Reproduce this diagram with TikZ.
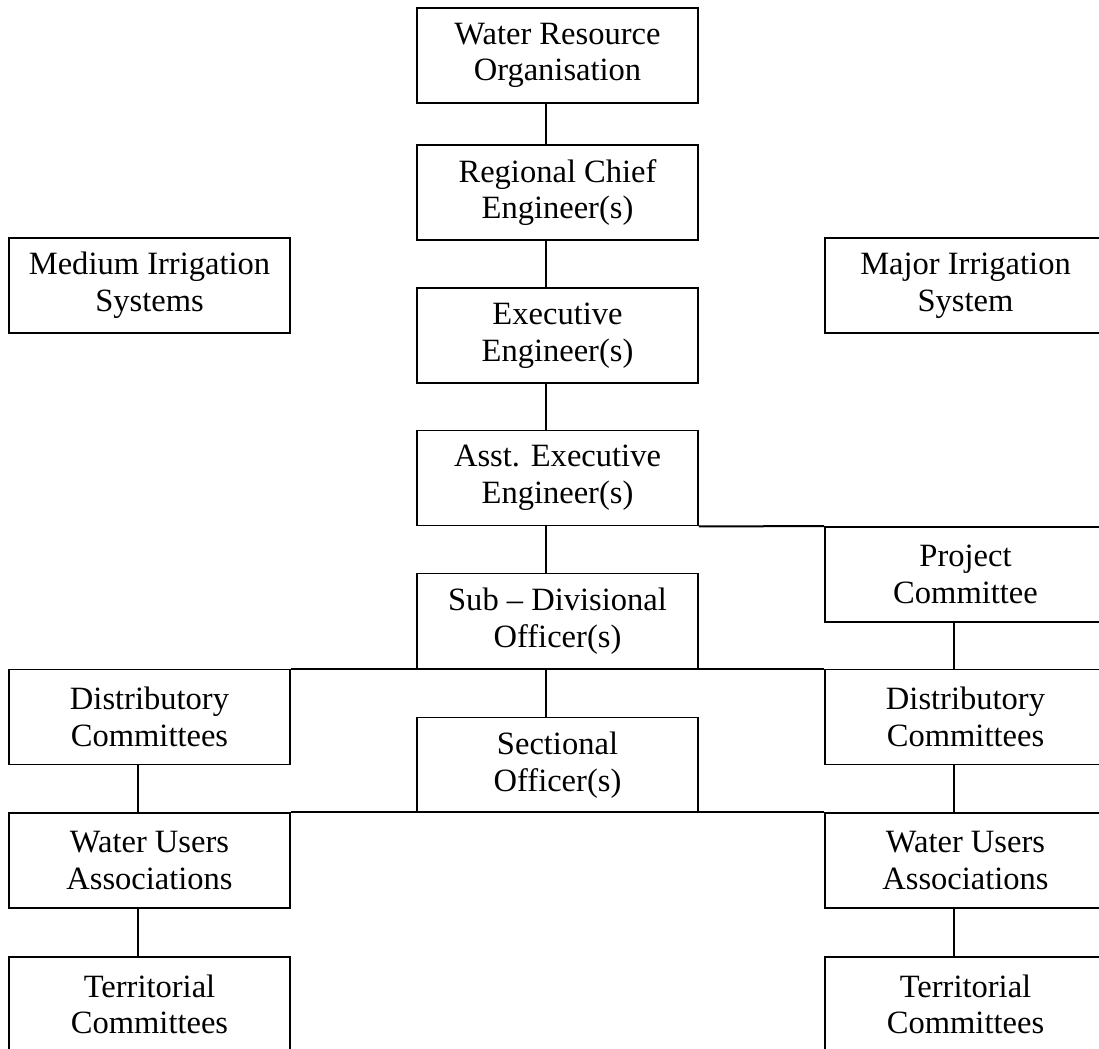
\documentclass[tikz,border=0pt]{standalone}
\usepackage{fontspec}
\setmainfont{Liberation Serif}
\usetikzlibrary{positioning}

\begin{document}
\begin{tikzpicture}[x=0.75pt, y=-0.75pt,
    orgbox/.style={draw, line width=1.4pt, minimum width=210.75pt, minimum height=71.25pt,
        align=center, inner sep=0pt, font=\fontsize{24.4}{27.5}\selectfont},
    link/.style={line width=1.5pt}]

% page frame of the reference picture
\useasboundingbox (0,0) rectangle (1099,1049);
\clip (0,0) rectangle (1099,1049);

% centre column
\node[orgbox] (wro) at (557.5,55.5) {Water Resource\\Organisation};
\node[orgbox] (rce) at (557.5,192.5) {Regional Chief\\Engineer(s)};
\node[orgbox] (exe) at (557.5,335.5) {Executive\\Engineer(s)};
\node[orgbox] (asst) at (557.5,478) {Asst. Executive\\Engineer(s)};
\node[orgbox] (subdiv) at (557.5,621) {Sub -- Divisional\\Officer(s)};
\node[orgbox] (sect) at (557.5,765) {Sectional\\Officer(s)};

% the two irrigation systems
\node[orgbox] (medium) at (149.5,285.5) {Medium Irrigation\\Systems};
\node[orgbox] (major) at (965.5,285.5) {Major Irrigation\\System};

% left column
\node[orgbox] (distL) at (149.5,717) {Distributory\\Committees};
\node[orgbox] (wuaL) at (149.5,860.5) {Water Users\\Associations};
\node[orgbox] (terrL) at (149.5,1004.5) {Territorial\\Committees};

% right column
\node[orgbox] (proj) at (965.5,574.5) {Project\\Committee};
\node[orgbox] (distR) at (965.5,717) {Distributory\\Committees};
\node[orgbox] (wuaR) at (965.5,860.5) {Water Users\\Associations};
\node[orgbox] (terrR) at (965.5,1004.5) {Territorial\\Committees};

% vertical links, a little left of the box centres
\draw[link] ([xshift=-9pt]wro.south) -- ([xshift=-9pt]rce.north);
\draw[link] ([xshift=-9pt]rce.south) -- ([xshift=-9pt]exe.north);
\draw[link] ([xshift=-9pt]exe.south) -- ([xshift=-9pt]asst.north);
\draw[link] ([xshift=-9pt]asst.south) -- ([xshift=-9pt]subdiv.north);
\draw[link] ([xshift=-9pt]subdiv.south) -- ([xshift=-9pt]sect.north);
\draw[link] ([xshift=-9pt]proj.south) -- ([xshift=-9pt]distR.north);
\draw[link] ([xshift=-9pt]distL.south) -- ([xshift=-9pt]wuaL.north);
\draw[link] ([xshift=-9pt]wuaL.south) -- ([xshift=-9pt]terrL.north);
\draw[link] ([xshift=-9pt]distR.south) -- ([xshift=-9pt]wuaR.north);
\draw[link] ([xshift=-9pt]wuaR.south) -- ([xshift=-9pt]terrR.north);

% horizontal links
\draw[link] (asst.south east) -- (proj.north west);
\draw[link] (distL.north east) -- (distR.north west);
\draw[link] (wuaL.north east) -- (wuaR.north west);
\end{tikzpicture}
\end{document}
